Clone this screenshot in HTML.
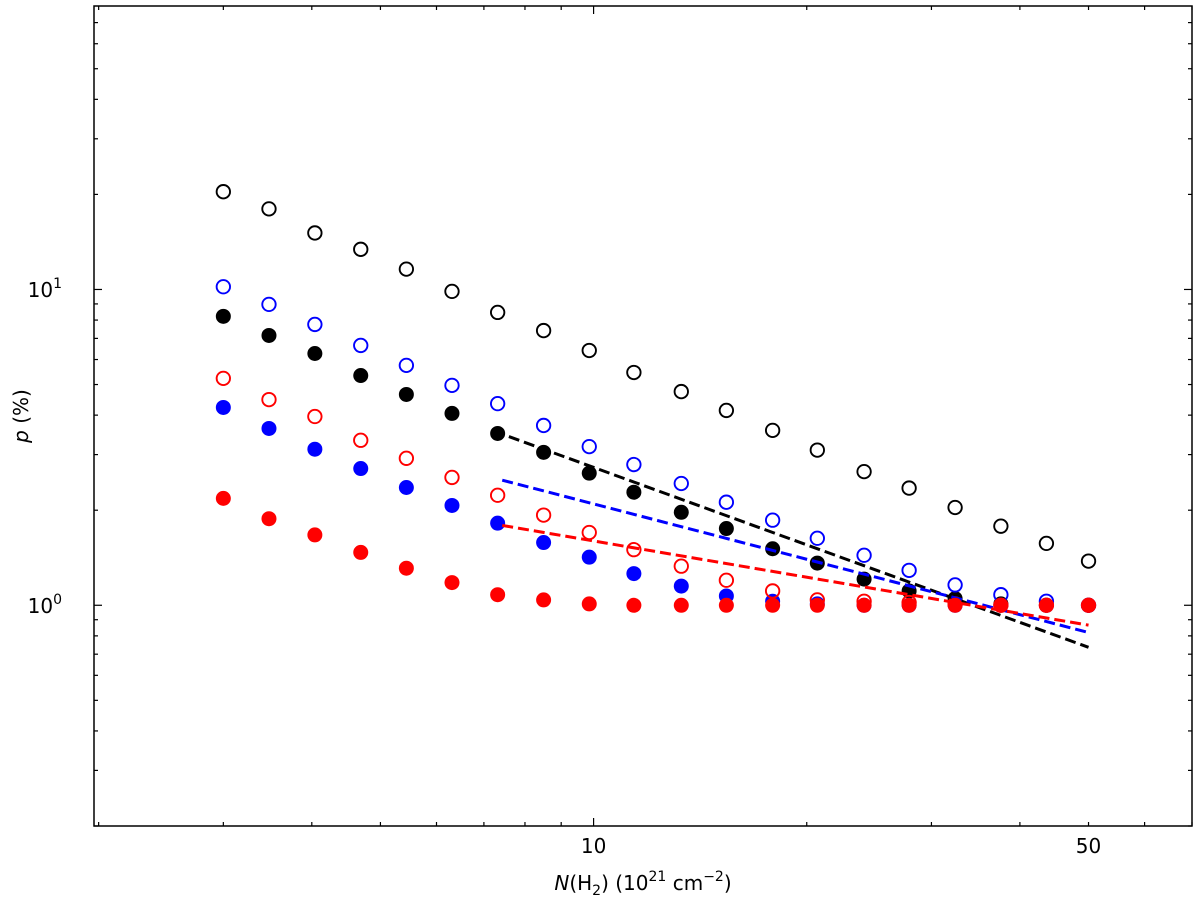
<!DOCTYPE html>
<html><head><meta charset="utf-8"><style>
body{margin:0;background:#fff;}
svg{display:block;font-family:"DejaVu Sans","Liberation Sans",sans-serif;}
</style></head><body>
<svg id="chart" width="1200" height="898"></svg>
<script>
const xValues=[3,3.48,4.04,4.69,5.44,6.31,7.32,8.5,9.86,11.4,13.3,15.4,17.9,20.7,24.1,27.9,32.4,37.6,43.6,50];
const blackOpen=[20.4,18.0,15.1,13.4,11.6,9.86,8.46,7.41,6.41,5.46,4.75,4.14,3.58,3.10,2.65,2.35,2.04,1.78,1.57,1.38];
const blueOpen=[10.2,8.97,7.75,6.65,5.75,4.97,4.35,3.71,3.18,2.79,2.43,2.12,1.86,1.63,1.44,1.29,1.16,1.08,1.03,1.0];
const blackFilled=[8.22,7.15,6.27,5.34,4.65,4.05,3.50,3.05,2.62,2.28,1.97,1.75,1.51,1.36,1.21,1.11,1.05,1.01,1.0,1.0];
const redOpen=[5.23,4.48,3.96,3.33,2.92,2.54,2.23,1.93,1.70,1.50,1.33,1.20,1.11,1.04,1.03,1.02,1.01,1.0,1.0,1.0];
const blueFilled=[4.23,3.63,3.12,2.71,2.36,2.07,1.82,1.58,1.42,1.26,1.15,1.07,1.03,1.01,1.0,1.0,1.0,1.0,1.0,1.0];
const redFilled=[2.18,1.88,1.67,1.47,1.31,1.18,1.08,1.04,1.01,1.0,1.0,1.0,1.0,1.0,1.0,1.0,1.0,1.0,1.0,1.0];
const fitX=[[7.23,50],[7.43,50],[7.43,50]];
const fitY=[[3.56,0.736],[2.49,0.82],[1.79,0.865]];
const fitColors=['#000','#0000ff','#ff0000'];
const xTickVals=[10,50];
const xTickLabels=['10','50'];

const NS='http://www.w3.org/2000/svg';
const svg=document.getElementById('chart');
const L=94,R=1192,T=6,B=826;
const xmin=Math.log10(1.97),xmax=Math.log10(70),ymin=Math.log10(0.2),ymax=Math.log10(79);
const X=v=>L+(Math.log10(v)-xmin)/(xmax-xmin)*(R-L);
const Y=v=>B-(Math.log10(v)-ymin)/(ymax-ymin)*(B-T);
function mk(tag,attrs,parent){const e=document.createElementNS(NS,tag);for(const k in attrs)e.setAttribute(k,attrs[k]);(parent||svg).appendChild(e);return e;}

const ticks=mk('g',{stroke:'#000','stroke-width':1.2});


for(let d=1;d<=100;d*=10){for(let m=1;m<10;m++){const v=m*d;if(v<1.97||v>70)continue;const x=X(v);const len=m===1?8:4;
mk('line',{x1:x,x2:x,y1:B,y2:B-len},ticks);mk('line',{x1:x,x2:x,y1:T,y2:T+len},ticks);}}
for(let d=0.1;d<=100;d*=10){for(let m=1;m<10;m++){const v=m*d;if(v<0.2||v>79)continue;const y=Y(v);const len=(m===1)?8:4;
mk('line',{x1:L,x2:L+len,y1:y,y2:y},ticks);mk('line',{x1:R,x2:R-len,y1:y,y2:y},ticks);}}

function drawSeries(vals,c,filled,name){const g=mk('g',{});


vals.forEach((v,i)=>{const p=mk('circle',{cx:X(xValues[i]),cy:Y(v),r:filled?7.5:6.7,fill:filled?c:'none',stroke:c,'stroke-width':filled?0:1.9},g);

});}

drawSeries(blackOpen,'#000',false,'black-open');
drawSeries(blackFilled,'#000',true,'black-filled');
drawSeries(blueOpen,'#0000ff',false,'blue-open');
drawSeries(blueFilled,'#0000ff',true,'blue-filled');
drawSeries(redOpen,'#ff0000',false,'red-open');

fitX.forEach((fx,i)=>{const l=mk('line',{x1:X(fx[0]),y1:Y(fitY[i][0]),x2:X(fx[1]),y2:Y(fitY[i][1]),stroke:fitColors[i],'stroke-width':3,'stroke-dasharray':'11,5'});

});

drawSeries(redFilled,'#ff0000',true,'red-filled');

const fr=mk('rect',{x:L,y:T,width:R-L,height:B-T,fill:'none',stroke:'#000','stroke-width':1.5});



xTickVals.forEach((v,i)=>{const t=mk('text',{x:X(v),y:853,'text-anchor':'middle','font-size':20});t.textContent=xTickLabels[i];

});
</script>
<svg width="1200" height="898" style="position:absolute;left:0;top:0" font-family="DejaVu Sans, Liberation Sans, sans-serif">
<text x="62" y="297" font-size="20" text-anchor="end">10<tspan dy="-9" font-size="14">1</tspan></text>
<text x="62" y="613" font-size="20" text-anchor="end">10<tspan dy="-9" font-size="14">0</tspan></text>
<text transform="translate(28,416) rotate(-90)" font-size="20" text-anchor="middle"><tspan font-style="italic">p</tspan> (%)</text>
<text x="643" y="890" font-size="20" text-anchor="middle"><tspan font-style="italic">N</tspan>(H<tspan dy="5" font-size="14">2</tspan><tspan dy="-5">) (10</tspan><tspan dy="-9" font-size="14">21</tspan><tspan dy="9"> cm</tspan><tspan dy="-9" font-size="14">−2</tspan><tspan dy="9">)</tspan></text>
</svg>
</body></html>
